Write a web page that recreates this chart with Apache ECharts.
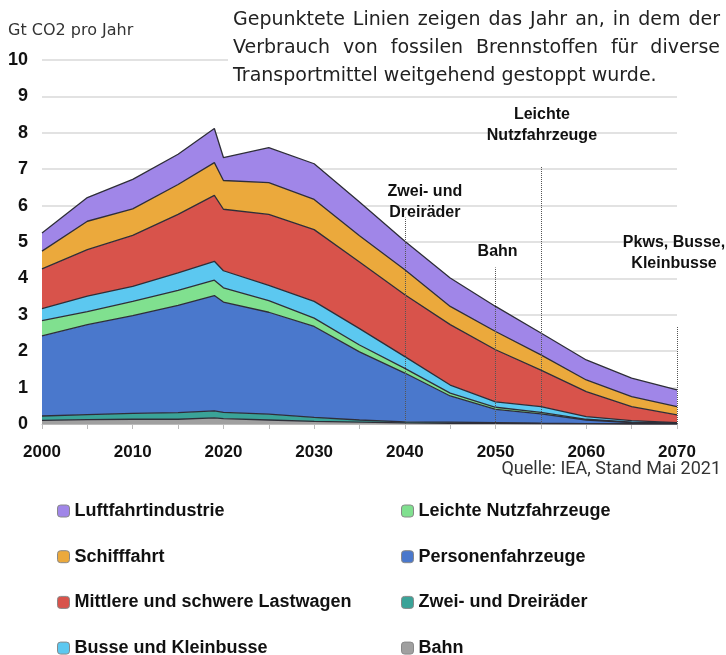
<!DOCTYPE html>
<html>
<head>
<meta charset="utf-8">
<script src="https://cdn.jsdelivr.net/npm/echarts@6/dist/echarts.min.js"></script>
<style>
html, body { margin: 0; padding: 0; background: #fff; }
#chart { width: 726px; height: 655px; }
</style>
</head>
<body>
<div id="chart"></div>
<script>
var years = [2000, 2005, 2010, 2015, 2019, 2020, 2025, 2030, 2035, 2040, 2045, 2050, 2055, 2060, 2065, 2070];

// Gt CO2 pro Jahr, je Sektor (gestapelt von unten nach oben)
var bahn   = [0.10, 0.12, 0.13, 0.13, 0.17, 0.15, 0.11, 0.07, 0.05, 0.03, 0.02, 0.02, 0.01, 0.01, 0.00, 0.00];
var zwei   = [0.12, 0.14, 0.16, 0.18, 0.19, 0.17, 0.16, 0.11, 0.06, 0.03, 0.03, 0.02, 0.01, 0.00, 0.01, 0.01];
var pers   = [2.20, 2.47, 2.69, 2.95, 3.17, 3.03, 2.80, 2.50, 1.87, 1.34, 0.72, 0.36, 0.26, 0.10, 0.03, 0.01];
var leicht = [0.42, 0.36, 0.39, 0.41, 0.42, 0.39, 0.32, 0.23, 0.19, 0.13, 0.08, 0.06, 0.04, 0.02, 0.01, 0.00];
var busse  = [0.33, 0.42, 0.41, 0.48, 0.52, 0.47, 0.42, 0.46, 0.45, 0.32, 0.22, 0.15, 0.16, 0.07, 0.04, 0.02];
var lkw    = [1.09, 1.28, 1.40, 1.61, 1.81, 1.69, 1.95, 1.97, 1.83, 1.70, 1.66, 1.43, 1.00, 0.69, 0.39, 0.21];
var schiff = [0.49, 0.78, 0.73, 0.82, 0.90, 0.79, 0.87, 0.83, 0.72, 0.69, 0.50, 0.50, 0.42, 0.32, 0.27, 0.23];
var luft   = [0.50, 0.65, 0.81, 0.83, 0.94, 0.63, 0.96, 0.98, 0.93, 0.78, 0.78, 0.69, 0.60, 0.55, 0.51, 0.46];

var names = ['Bahn', 'Zwei- und Dreiräder', 'Personenfahrzeuge', 'Leichte Nutzfahrzeuge',
    'Busse und Kleinbusse', 'Mittlere und schwere Lastwagen', 'Schifffahrt', 'Luftfahrtindustrie'];
var values = [bahn, zwei, pers, leicht, busse, lkw, schiff, luft];
var colors = ['#a0a0a0', '#3aa398', '#4a78cc', '#80e08f', '#5cc8f0', '#d8534b', '#eba93c', '#a086e8'];

// Jahr, in dem fossile Brennstoffe weitgehend gestoppt sind, und Höhe der gepunkteten Linie
var stopYears = [2040, 2050, 2055, 2070];
var stopTops = [5.67, 4.3, 7.08, 2.67];
var stopLabels = ['Zwei- und\nDreiräder', 'Bahn', 'Leichte\nNutzfahrzeuge', 'Pkws, Busse,\nKleinbusse'];

var legendLeft = ['Luftfahrtindustrie', 'Schifffahrt', 'Mittlere und schwere Lastwagen', 'Busse und Kleinbusse'];
var legendRight = ['Leichte Nutzfahrzeuge', 'Personenfahrzeuge', 'Zwei- und Dreiräder', 'Bahn'];

var note = ['Gepunktete Linien zeigen das Jahr an, in dem der',
    'Verbrauch von fossilen Brennstoffen für diverse',
    'Transportmittel weitgehend gestoppt wurde.'];

var chart = echarts.init(document.getElementById('chart'));

function colorOf(name) {
    return colors[names.indexOf(name)];
}
function legendData(list) {
    return list.map(function (n) {
        return { name: n, itemStyle: { color: colorOf(n), borderColor: '#888', borderWidth: 1 } };
    });
}

// Spalten [Wert, Jahr], damit der Stapel auf der y-Dimension liegt
var series = names.map(function (name, i) {
    return {
        name: name,
        type: 'line',
        stack: 'total',
        symbol: 'none',
        encode: { x: 1, y: 0 },
        data: years.map(function (y, j) { return [values[i][j], y]; }),
        lineStyle: { color: '#2e2e38', width: 1.3 },
        itemStyle: { color: colors[i] },
        areaStyle: { color: colors[i], opacity: 1 }
    };
});

series[0].markLine = {
    silent: true,
    symbol: 'none',
    label: { show: false },
    lineStyle: { color: '#555', type: 'dotted', width: 1 },
    data: stopYears.map(function (y, i) {
        return [{ coord: [y, 0] }, { coord: [y, stopTops[i]] }];
    })
};

// Blocksatz für die Anmerkung oben rechts
var noteFont = '19px "DejaVu Sans"';
var ctx = document.createElement('canvas').getContext('2d');
ctx.font = noteFont;
var spaceW = ctx.measureText(' ').width;
var graphics = [
    { type: 'rect', shape: { x: 228, y: 0, width: 498, height: 88 }, style: { fill: '#fff' }, z: 5 },
    { type: 'text', x: 8, y: 31, z: 6, style: { text: 'Gt CO2 pro Jahr', font: '16px "DejaVu Sans"', fill: '#333', textVerticalAlign: 'middle' } },
    { type: 'text', x: 721, y: 469, z: 6, style: { text: 'Quelle: IEA, Stand Mai 2021', font: '18px "Liberation Sans Narrow", Roboto', fill: '#333', textAlign: 'right', textVerticalAlign: 'middle' } }
];
note.forEach(function (line, i) {
    var y = 20 + i * 28;
    if (i === note.length - 1) {
        graphics.push({ type: 'text', x: 233, y: y, z: 6, style: { text: line, font: noteFont, fill: '#222', textVerticalAlign: 'middle' } });
        return;
    }
    var words = line.split(' ');
    var widths = words.map(function (w) { return ctx.measureText(w).width; });
    var total = widths.reduce(function (a, b) { return a + b; }, 0);
    var gap = Math.max((720 - 233 - total) / (words.length - 1), spaceW * 0.8);
    var x = 233;
    words.forEach(function (w, k) {
        graphics.push({ type: 'text', x: x, y: y, z: 6, style: { text: w, font: noteFont, fill: '#222', textVerticalAlign: 'middle' } });
        x += widths[k] + gap;
    });
});

var legendText = { fontFamily: 'Liberation Sans, Arial', fontWeight: 'bold', fontSize: 18, color: '#111', lineHeight: 18 };

chart.setOption({
    animation: false,
    grid: { left: 42, right: 49, top: 60, bottom: 231, outerBoundsMode: 'none' },
    xAxis: {
        type: 'value',
        min: 2000,
        max: 2070,
        interval: 5,
        axisLine: { show: true, lineStyle: { color: '#bbb' } },
        axisTick: { show: true, length: 5, lineStyle: { color: '#bbb' } },
        splitLine: { show: false },
        axisLabel: {
            margin: 20,
            fontFamily: 'Liberation Sans, Arial',
            fontWeight: 'bold',
            fontSize: 17,
            color: '#111',
            formatter: function (v) { return v % 10 === 0 ? String(v) : ''; }
        }
    },
    yAxis: {
        type: 'value',
        min: 0,
        max: 10,
        interval: 1,
        axisLine: { show: false },
        axisTick: { show: false },
        splitLine: { lineStyle: { color: '#e2e2e2', width: 2 } },
        axisLabel: { margin: 14, fontFamily: 'Liberation Sans, Arial', fontWeight: 'bold', fontSize: 18, color: '#111' }
    },
    legend: [{
        left: 57, top: 502, height: 200, padding: 0, orient: 'vertical', itemGap: 27.7, itemWidth: 12, itemHeight: 12,
        icon: 'roundRect', selectedMode: false, textStyle: legendText, data: legendData(legendLeft)
    }, {
        left: 401, top: 502, height: 200, padding: 0, orient: 'vertical', itemGap: 27.7, itemWidth: 12, itemHeight: 12,
        icon: 'roundRect', selectedMode: false, textStyle: legendText, data: legendData(legendRight)
    }],
    graphic: graphics,
    series: series
});

// Beschriftungen über den gepunkteten Linien
var labelShift = [[20, -16], [2, -16], [1, -41], [-3, -74]];
var labelGraphics = stopYears.map(function (y, i) {
    var p = chart.convertToPixel({ gridIndex: 0 }, [y, stopTops[i]]);
    return {
        type: 'text', z: 6,
        x: p[0] + labelShift[i][0], y: p[1] + labelShift[i][1],
        style: {
            text: stopLabels[i], font: 'bold 16px "Liberation Sans", Arial', fill: '#111',
            lineHeight: 21, textAlign: 'center', textVerticalAlign: 'middle'
        }
    };
});
chart.setOption({ graphic: graphics.concat(labelGraphics) });
</script>
</body>
</html>
